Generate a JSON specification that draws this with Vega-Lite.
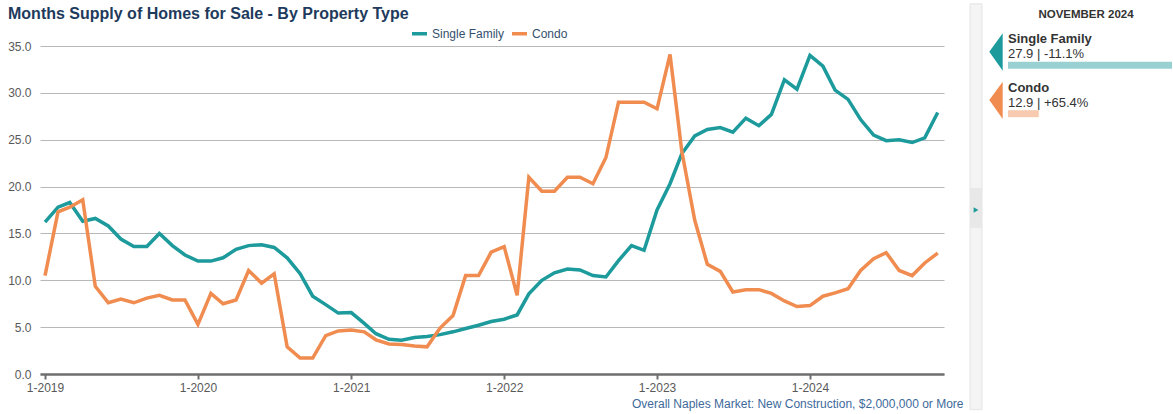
{
  "$schema": "https://vega.github.io/schema/vega-lite/v6.json",
  "padding": {"left": 5, "top": 3, "right": 0, "bottom": 0},
  "background": "white",
  "config": {"font": "Liberation Sans", "view": {"stroke": null}},
  "spacing": 26,
  "bounds": "flush",
  "resolve": {"scale": {"color": "independent", "x": "independent", "y": "independent"}},
  "datasets": {
    "history": [
      {"date": "2019/01/01", "type": "Single Family", "value": 16.2},
      {"date": "2019/02/01", "type": "Single Family", "value": 17.8},
      {"date": "2019/03/01", "type": "Single Family", "value": 18.3},
      {"date": "2019/04/01", "type": "Single Family", "value": 16.3},
      {"date": "2019/05/01", "type": "Single Family", "value": 16.6},
      {"date": "2019/06/01", "type": "Single Family", "value": 15.8},
      {"date": "2019/07/01", "type": "Single Family", "value": 14.4},
      {"date": "2019/08/01", "type": "Single Family", "value": 13.6},
      {"date": "2019/09/01", "type": "Single Family", "value": 13.6},
      {"date": "2019/10/01", "type": "Single Family", "value": 15.0},
      {"date": "2019/11/01", "type": "Single Family", "value": 13.7},
      {"date": "2019/12/01", "type": "Single Family", "value": 12.7},
      {"date": "2020/01/01", "type": "Single Family", "value": 12.05},
      {"date": "2020/02/01", "type": "Single Family", "value": 12.05},
      {"date": "2020/03/01", "type": "Single Family", "value": 12.4},
      {"date": "2020/04/01", "type": "Single Family", "value": 13.3},
      {"date": "2020/05/01", "type": "Single Family", "value": 13.7},
      {"date": "2020/06/01", "type": "Single Family", "value": 13.8},
      {"date": "2020/07/01", "type": "Single Family", "value": 13.5},
      {"date": "2020/08/01", "type": "Single Family", "value": 12.4},
      {"date": "2020/09/01", "type": "Single Family", "value": 10.7},
      {"date": "2020/10/01", "type": "Single Family", "value": 8.3},
      {"date": "2020/11/01", "type": "Single Family", "value": 7.4},
      {"date": "2020/12/01", "type": "Single Family", "value": 6.5},
      {"date": "2021/01/01", "type": "Single Family", "value": 6.55},
      {"date": "2021/02/01", "type": "Single Family", "value": 5.4},
      {"date": "2021/03/01", "type": "Single Family", "value": 4.3},
      {"date": "2021/04/01", "type": "Single Family", "value": 3.7},
      {"date": "2021/05/01", "type": "Single Family", "value": 3.6},
      {"date": "2021/06/01", "type": "Single Family", "value": 3.9},
      {"date": "2021/07/01", "type": "Single Family", "value": 4.0},
      {"date": "2021/08/01", "type": "Single Family", "value": 4.2},
      {"date": "2021/09/01", "type": "Single Family", "value": 4.5},
      {"date": "2021/10/01", "type": "Single Family", "value": 4.85},
      {"date": "2021/11/01", "type": "Single Family", "value": 5.2},
      {"date": "2021/12/01", "type": "Single Family", "value": 5.6},
      {"date": "2022/01/01", "type": "Single Family", "value": 5.85},
      {"date": "2022/02/01", "type": "Single Family", "value": 6.3},
      {"date": "2022/03/01", "type": "Single Family", "value": 8.55},
      {"date": "2022/04/01", "type": "Single Family", "value": 10.0},
      {"date": "2022/05/01", "type": "Single Family", "value": 10.8},
      {"date": "2022/06/01", "type": "Single Family", "value": 11.2},
      {"date": "2022/07/01", "type": "Single Family", "value": 11.1},
      {"date": "2022/08/01", "type": "Single Family", "value": 10.5},
      {"date": "2022/09/01", "type": "Single Family", "value": 10.35},
      {"date": "2022/10/01", "type": "Single Family", "value": 12.1},
      {"date": "2022/11/01", "type": "Single Family", "value": 13.7},
      {"date": "2022/12/01", "type": "Single Family", "value": 13.2},
      {"date": "2023/01/01", "type": "Single Family", "value": 17.5},
      {"date": "2023/02/01", "type": "Single Family", "value": 20.3},
      {"date": "2023/03/01", "type": "Single Family", "value": 23.5},
      {"date": "2023/04/01", "type": "Single Family", "value": 25.4},
      {"date": "2023/05/01", "type": "Single Family", "value": 26.1},
      {"date": "2023/06/01", "type": "Single Family", "value": 26.3},
      {"date": "2023/07/01", "type": "Single Family", "value": 25.8},
      {"date": "2023/08/01", "type": "Single Family", "value": 27.3},
      {"date": "2023/09/01", "type": "Single Family", "value": 26.5},
      {"date": "2023/10/01", "type": "Single Family", "value": 27.7},
      {"date": "2023/11/01", "type": "Single Family", "value": 31.4},
      {"date": "2023/12/01", "type": "Single Family", "value": 30.4},
      {"date": "2024/01/01", "type": "Single Family", "value": 34.0},
      {"date": "2024/02/01", "type": "Single Family", "value": 32.85},
      {"date": "2024/03/01", "type": "Single Family", "value": 30.3},
      {"date": "2024/04/01", "type": "Single Family", "value": 29.3},
      {"date": "2024/05/01", "type": "Single Family", "value": 27.15},
      {"date": "2024/06/01", "type": "Single Family", "value": 25.5},
      {"date": "2024/07/01", "type": "Single Family", "value": 24.9},
      {"date": "2024/08/01", "type": "Single Family", "value": 25.0},
      {"date": "2024/09/01", "type": "Single Family", "value": 24.7},
      {"date": "2024/10/01", "type": "Single Family", "value": 25.2},
      {"date": "2024/11/01", "type": "Single Family", "value": 27.9},
      {"date": "2019/01/01", "type": "Condo", "value": 10.5},
      {"date": "2019/02/01", "type": "Condo", "value": 17.3},
      {"date": "2019/03/01", "type": "Condo", "value": 17.8},
      {"date": "2019/04/01", "type": "Condo", "value": 18.6},
      {"date": "2019/05/01", "type": "Condo", "value": 9.35},
      {"date": "2019/06/01", "type": "Condo", "value": 7.6},
      {"date": "2019/07/01", "type": "Condo", "value": 8.0},
      {"date": "2019/08/01", "type": "Condo", "value": 7.6},
      {"date": "2019/09/01", "type": "Condo", "value": 8.1},
      {"date": "2019/10/01", "type": "Condo", "value": 8.4},
      {"date": "2019/11/01", "type": "Condo", "value": 7.9},
      {"date": "2019/12/01", "type": "Condo", "value": 7.9},
      {"date": "2020/01/01", "type": "Condo", "value": 5.3},
      {"date": "2020/02/01", "type": "Condo", "value": 8.6},
      {"date": "2020/03/01", "type": "Condo", "value": 7.5},
      {"date": "2020/04/01", "type": "Condo", "value": 7.9},
      {"date": "2020/05/01", "type": "Condo", "value": 11.05},
      {"date": "2020/06/01", "type": "Condo", "value": 9.7},
      {"date": "2020/07/01", "type": "Condo", "value": 10.7},
      {"date": "2020/08/01", "type": "Condo", "value": 2.9},
      {"date": "2020/09/01", "type": "Condo", "value": 1.7},
      {"date": "2020/10/01", "type": "Condo", "value": 1.7},
      {"date": "2020/11/01", "type": "Condo", "value": 4.1},
      {"date": "2020/12/01", "type": "Condo", "value": 4.6},
      {"date": "2021/01/01", "type": "Condo", "value": 4.7},
      {"date": "2021/02/01", "type": "Condo", "value": 4.5},
      {"date": "2021/03/01", "type": "Condo", "value": 3.65},
      {"date": "2021/04/01", "type": "Condo", "value": 3.2},
      {"date": "2021/05/01", "type": "Condo", "value": 3.15},
      {"date": "2021/06/01", "type": "Condo", "value": 3.0},
      {"date": "2021/07/01", "type": "Condo", "value": 2.9},
      {"date": "2021/08/01", "type": "Condo", "value": 4.9},
      {"date": "2021/09/01", "type": "Condo", "value": 6.25},
      {"date": "2021/10/01", "type": "Condo", "value": 10.5},
      {"date": "2021/11/01", "type": "Condo", "value": 10.5},
      {"date": "2021/12/01", "type": "Condo", "value": 13.0},
      {"date": "2022/01/01", "type": "Condo", "value": 13.6},
      {"date": "2022/02/01", "type": "Condo", "value": 8.4},
      {"date": "2022/03/01", "type": "Condo", "value": 21.0},
      {"date": "2022/04/01", "type": "Condo", "value": 19.5},
      {"date": "2022/05/01", "type": "Condo", "value": 19.5},
      {"date": "2022/06/01", "type": "Condo", "value": 21.0},
      {"date": "2022/07/01", "type": "Condo", "value": 21.0},
      {"date": "2022/08/01", "type": "Condo", "value": 20.3},
      {"date": "2022/09/01", "type": "Condo", "value": 23.1},
      {"date": "2022/10/01", "type": "Condo", "value": 29.0},
      {"date": "2022/11/01", "type": "Condo", "value": 29.0},
      {"date": "2022/12/01", "type": "Condo", "value": 29.0},
      {"date": "2023/01/01", "type": "Condo", "value": 28.3},
      {"date": "2023/02/01", "type": "Condo", "value": 34.1},
      {"date": "2023/03/01", "type": "Condo", "value": 23.8},
      {"date": "2023/04/01", "type": "Condo", "value": 16.4},
      {"date": "2023/05/01", "type": "Condo", "value": 11.7},
      {"date": "2023/06/01", "type": "Condo", "value": 10.95},
      {"date": "2023/07/01", "type": "Condo", "value": 8.75},
      {"date": "2023/08/01", "type": "Condo", "value": 9.0},
      {"date": "2023/09/01", "type": "Condo", "value": 9.0},
      {"date": "2023/10/01", "type": "Condo", "value": 8.6},
      {"date": "2023/11/01", "type": "Condo", "value": 7.8},
      {"date": "2023/12/01", "type": "Condo", "value": 7.2},
      {"date": "2024/01/01", "type": "Condo", "value": 7.3},
      {"date": "2024/02/01", "type": "Condo", "value": 8.3},
      {"date": "2024/03/01", "type": "Condo", "value": 8.65},
      {"date": "2024/04/01", "type": "Condo", "value": 9.1},
      {"date": "2024/05/01", "type": "Condo", "value": 11.05},
      {"date": "2024/06/01", "type": "Condo", "value": 12.3},
      {"date": "2024/07/01", "type": "Condo", "value": 12.95},
      {"date": "2024/08/01", "type": "Condo", "value": 11.05},
      {"date": "2024/09/01", "type": "Condo", "value": 10.5},
      {"date": "2024/10/01", "type": "Condo", "value": 11.85},
      {"date": "2024/11/01", "type": "Condo", "value": 12.9}
    ],
    "latest": [
      {"type": "Single Family", "value": 27.9, "reading": "27.9 | -11.1%"},
      {"type": "Condo", "value": 12.9, "reading": "12.9 | +65.4%"}
    ]
  },
  "hconcat": [
    {
      "width": 904,
      "height": 328,
      "data": {"name": "history"},
      "title": {"text": "Months Supply of Homes for Sale - By Property Type", "anchor": "start", "frame": "bounds", "dx": 3, "fontSize": 16, "fontWeight": "bold", "color": "#1e3a5c", "offset": 2.5},
      "mark": {"type": "line", "strokeWidth": 3.5},
      "encoding": {
        "x": {
          "field": "date", "type": "temporal",
          "scale": {"domain": [{"year": 2018, "month": 12, "date": 20}, {"year": 2024, "month": 11, "date": 16}], "nice": false},
          "axis": {
            "format": "%-m-%Y",
            "values": [{"year": 2019, "month": 1, "date": 1}, {"year": 2020, "month": 1, "date": 1}, {"year": 2021, "month": 1, "date": 1}, {"year": 2022, "month": 1, "date": 1}, {"year": 2023, "month": 1, "date": 1}, {"year": 2024, "month": 1, "date": 1}],
            "grid": false,
            "domainColor": "#6e6e6e", "domainWidth": 2.5,
            "tickColor": "#6e6e6e", "tickWidth": 2, "tickSize": 5,
            "labelColor": "#595959", "labelFontSize": 12, "labelPadding": 3,
            "title": "Overall Naples Market: New Construction, $2,000,000 or More",
            "titleX": 923, "titleY": 29, "titleAlign": "right", "titleBaseline": "middle",
            "titleFontSize": 12, "titleFontWeight": "normal", "titleColor": "#3e6a9c"
          }
        },
        "y": {
          "field": "value", "type": "quantitative",
          "scale": {"domain": [0, 35], "nice": false},
          "axis": {"values": [0, 5, 10, 15, 20, 25, 30, 35], "format": ".1f", "domain": false, "ticks": false, "gridColor": "#b8b8b8", "labelPadding": 9, "labelFontSize": 12, "labelColor": "#595959", "title": null, "minExtent": 35, "maxExtent": 35}
        },
        "color": {
          "field": "type", "type": "nominal",
          "scale": {"domain": ["Single Family", "Condo"], "range": ["#1c9a9c", "#f08c4f"]},
          "legend": {"orient": "none", "legendX": 370, "legendY": -22, "direction": "horizontal", "title": null, "labelFontSize": 12, "labelColor": "#34506e", "symbolType": "stroke", "symbolSize": 225, "symbolStrokeWidth": 3.5, "labelOffset": 3, "columnPadding": 0}
        }
      }
    },
    {
      "width": 12,
      "height": 328,
      "data": {"values": [{"part": "toggle"}]},
      "layer": [
        {"mark": {"type": "rect", "fill": "#f4f4f4", "stroke": "#e4e4e4", "strokeWidth": 1},
         "encoding": {"y": {"datum": 39.5, "type": "quantitative", "scale": {"domain": [0, 35], "nice": false}, "axis": null}, "y2": {"datum": -3.8}}},
        {"mark": {"type": "rect", "fill": "#e8e8e8"},
         "encoding": {"y": {"datum": 19.85, "type": "quantitative", "axis": null}, "y2": {"datum": 15.6}}},
        {"mark": {"type": "point", "shape": "triangle-right", "filled": true, "fill": "#1c9a9c", "size": 30, "opacity": 1},
         "encoding": {"y": {"datum": 17.5, "type": "quantitative", "axis": null}}}
      ]
    },
    {
      "width": 164,
      "height": 328,
      "data": {"name": "latest"},
      "title": {"text": "NOVEMBER 2024", "fontSize": 11.5, "fontWeight": "bold", "color": "#333333", "anchor": "middle", "frame": "group", "dx": -4, "baseline": "alphabetic", "offset": 4},
      "encoding": {
        "y": {"field": "type", "type": "nominal", "sort": ["Single Family", "Condo"], "scale": {"range": [-4.9, 91.9], "paddingInner": 0, "paddingOuter": 0}, "axis": null}
      },
      "layer": [
        {"mark": {"type": "bar", "size": 7, "opacity": 0.45},
         "encoding": {
           "x": {"field": "value", "type": "quantitative", "scale": {"domain": [9.43, 27.9], "nice": false, "zero": false}, "axis": null},
           "x2": {"datum": 9.43},
           "color": {"field": "type", "type": "nominal", "scale": {"domain": ["Single Family", "Condo"], "range": ["#1c9a9c", "#f08c4f"]}, "legend": null}
         }},
        {"mark": {"type": "point", "shape": "M -0.294 -1.778 L -0.294 0.3 L -1.039 -0.756 Z", "size": 1296, "filled": true, "opacity": 1},
         "encoding": {
           "x": {"datum": 9.43, "type": "quantitative"},
           "color": {"field": "type", "type": "nominal", "legend": null}
         }},
        {"mark": {"type": "text", "align": "left", "baseline": "alphabetic", "dy": -22, "fontSize": 13, "fontWeight": "bold", "color": "#333333"},
         "encoding": {"x": {"datum": 9.43, "type": "quantitative"}, "text": {"field": "type"}}},
        {"mark": {"type": "text", "align": "left", "baseline": "alphabetic", "dy": -7, "fontSize": 13, "color": "#333333"},
         "encoding": {"x": {"datum": 9.43, "type": "quantitative"}, "text": {"field": "reading"}}}
      ]
    }
  ]
}
